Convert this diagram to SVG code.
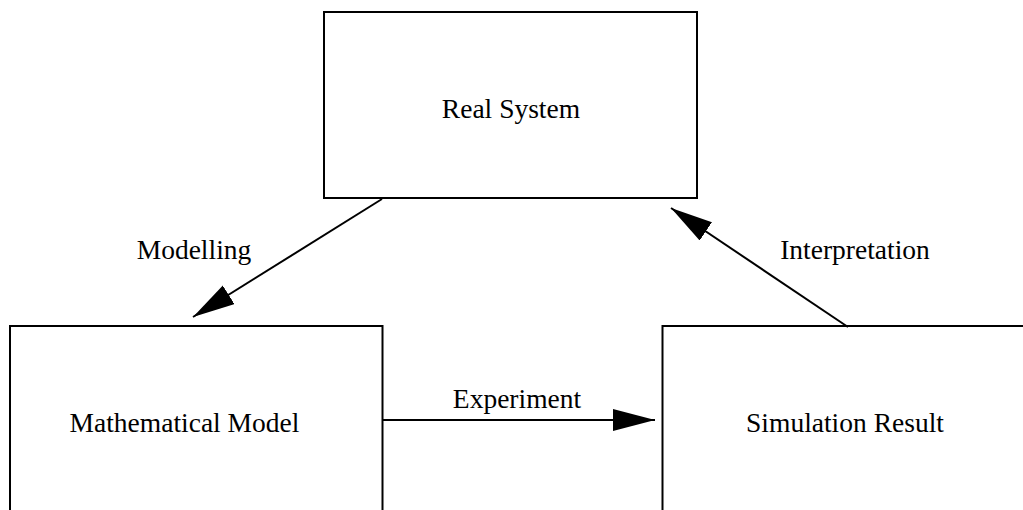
<svg xmlns="http://www.w3.org/2000/svg" width="1023" height="510" viewBox="0 0 1023 510">
<style>
.box{fill:#fff;stroke:#000;stroke-width:2}
.lbl{font-family:"Liberation Serif","Times New Roman",serif;font-size:27.5px;fill:#000;text-anchor:middle}
.edge{stroke:#000;stroke-width:2;fill:none}
</style>
<defs>
<marker id="ah" markerUnits="userSpaceOnUse" markerWidth="44" markerHeight="24" refX="42" refY="11" orient="auto" viewBox="0 0 44 24">
<path d="M0,0 L42,11 L0,22 z" fill="#000"/>
</marker>
</defs>
<rect width="1023" height="510" fill="#fff"/>
<g id="real-system">
<rect class="box" x="324" y="12" width="373" height="186"/>
<text class="lbl" x="511" y="118">Real System</text>
</g>
<g id="mathematical-model">
<rect class="box" x="10" y="326" width="372.5" height="200"/>
<text class="lbl" x="184.5" y="432">Mathematical Model</text>
</g>
<g id="simulation-result">
<rect class="box" x="662.5" y="326" width="400" height="200"/>
<text class="lbl" x="845" y="432">Simulation Result</text>
</g>
<g id="connectors">
<line class="edge" x1="382" y1="199" x2="193" y2="317" marker-end="url(#ah)"/>
<line class="edge" x1="848" y1="327" x2="671" y2="208" marker-end="url(#ah)"/>
<line class="edge" x1="383" y1="420" x2="655" y2="420" marker-end="url(#ah)"/>
<text class="lbl" x="194" y="259">Modelling</text>
<text class="lbl" x="855" y="259">Interpretation</text>
<text class="lbl" x="517" y="408">Experiment</text>
</g>
</svg>
